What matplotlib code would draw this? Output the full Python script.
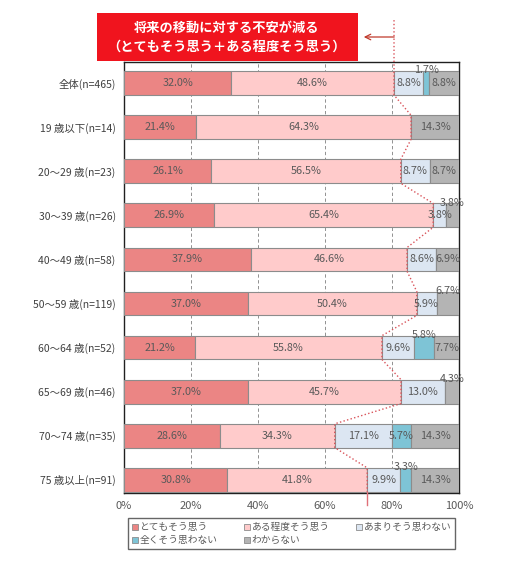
import numpy as np
import matplotlib
matplotlib.use("Agg")
import matplotlib.pyplot as plt
from matplotlib.patches import Rectangle

plt.rcParams['font.family'] = ['Noto Sans CJK JP', 'DejaVu Sans']

groups = ["全体(n=465)", "19 歳以下(n=14)", "20～29 歳(n=23)", "30～39 歳(n=26)",
          "40～49 歳(n=58)", "50～59 歳(n=119)", "60～64 歳(n=52)", "65～69 歳(n=46)",
          "70～74 歳(n=35)", "75 歳以上(n=91)"]
series = ["とてもそう思う", "ある程度そう思う", "あまりそう思わない", "全くそう思わない", "わからない"]
totemo = [32.0, 21.4, 26.1, 26.9, 37.9, 37.0, 21.2, 37.0, 28.6, 30.8]
aruteido = [48.6, 64.3, 56.5, 65.4, 46.6, 50.4, 55.8, 45.7, 34.3, 41.8]
amari = [8.8, 0, 8.7, 3.8, 8.6, 5.9, 9.6, 13.0, 17.1, 9.9]
mattaku = [1.7, 0, 0, 0, 0, 0, 5.8, 0, 5.7, 3.3]
wakaranai = [8.8, 14.3, 8.7, 3.8, 6.9, 6.7, 7.7, 4.3, 14.3, 14.3]
# labels drawn above the bar instead of inside (row, series)
above = [(0, 3), (3, 4), (5, 4), (6, 3), (7, 4), (9, 3)]

colors = ["#EB8584", "#FFCBCB", "#DCE6F2", "#7EC4D6", "#B4B4B4"]
vals = np.array([totemo, aruteido, amari, mattaku, wakaranai])

fig = plt.figure(figsize=(5.12, 5.69), dpi=100)
ax = fig.add_axes([124 / 512, 1 - 493 / 569, 335 / 512, 431 / 569])

y = np.arange(len(groups))
h = 0.54
left = np.zeros(len(groups))
for j in range(5):
    ax.barh(y, vals[j], height=h, left=left, color=colors[j], edgecolor="#8C8C8C",
            linewidth=0.8, zorder=3)
    for i in range(len(groups)):
        v = vals[j][i]
        if v <= 0:
            continue
        cx = left[i] + v / 2
        if (i, j) in above:
            ax.text(cx, i - h / 2 - 0.02, f"{v:.1f}%", ha="center", va="center",
                    fontsize=7.8, color="#595959", zorder=5)
        else:
            ax.text(cx, i, f"{v:.1f}%", ha="center", va="center",
                    fontsize=7.8, color="#595959", zorder=5)
    left += vals[j]

# dotted line along the "agree" total
b = vals[0] + vals[1]
xs = [b[0]]
ys = [-1.43]
for i in range(len(groups)):
    xs += [b[i], b[i]]
    ys += [i - h / 2, i + h / 2]
ax.plot(xs, ys, color="#D9535A", linestyle=":", linewidth=1.0, zorder=4, clip_on=False)
ax.plot([b[-1], b[-1]], [len(groups) - 1 + h / 2, 9.57], color="#E07078",
        linewidth=1.0, zorder=4, clip_on=False)

ax.set_xlim(0, 100)
ax.set_ylim(9.3, -0.48)
ax.set_xticks([0, 20, 40, 60, 80, 100])
ax.set_xticklabels(["0%", "20%", "40%", "60%", "80%", "100%"], fontsize=8, color="#595959")
ax.set_yticks(y)
ax.set_yticklabels(groups, fontsize=7.5, color="#404040")
ax.tick_params(length=0, pad=6)
ax.grid(axis="x", linestyle=(0, (4, 3)), color="#808080", linewidth=0.6, zorder=0)
for s in ax.spines.values():
    s.set_color("#202020")
    s.set_linewidth(1.0)

# callout box
fig.patches.append(Rectangle((97 / 512, 1 - 61 / 569), 261 / 512, 48 / 569,
                             transform=fig.transFigure, facecolor="#F0141E",
                             edgecolor="none", zorder=10))
fig.text(227 / 512, 1 - 28 / 569, "将来の移動に対する不安が減る", ha="center", va="center",
         color="white", fontsize=9.5, fontweight="bold", zorder=11)
fig.text(227 / 512, 1 - 47 / 569, "（とてもそう思う＋ある程度そう思う）", ha="center", va="center",
         color="white", fontsize=9.5, fontweight="bold", zorder=11)
ax.annotate("", xy=(361 / 512, 1 - 37 / 569), xycoords="figure fraction",
            xytext=(397 / 512, 1 - 37 / 569), textcoords="figure fraction",
            arrowprops=dict(arrowstyle="->", color="#C0392B", lw=0.9))

handles = [Rectangle((0, 0), 1, 1, facecolor=c, edgecolor="#8C8C8C", linewidth=0.6) for c in colors]
order = [0, 3, 1, 4, 2]
fig.legend([handles[k] for k in order], [series[k] for k in order],
           loc="lower left", ncol=3, mode="expand",
           bbox_to_anchor=(123 / 512, 15 / 569, 337 / 512, 30 / 569),
           fontsize=7, frameon=True, fancybox=False, edgecolor="#404040",
           handlelength=0.6, handleheight=0.6, handletextpad=0.2,
           borderpad=0.4, labelspacing=0.3, labelcolor="#595959")

fig.savefig("out.png", dpi=100)
